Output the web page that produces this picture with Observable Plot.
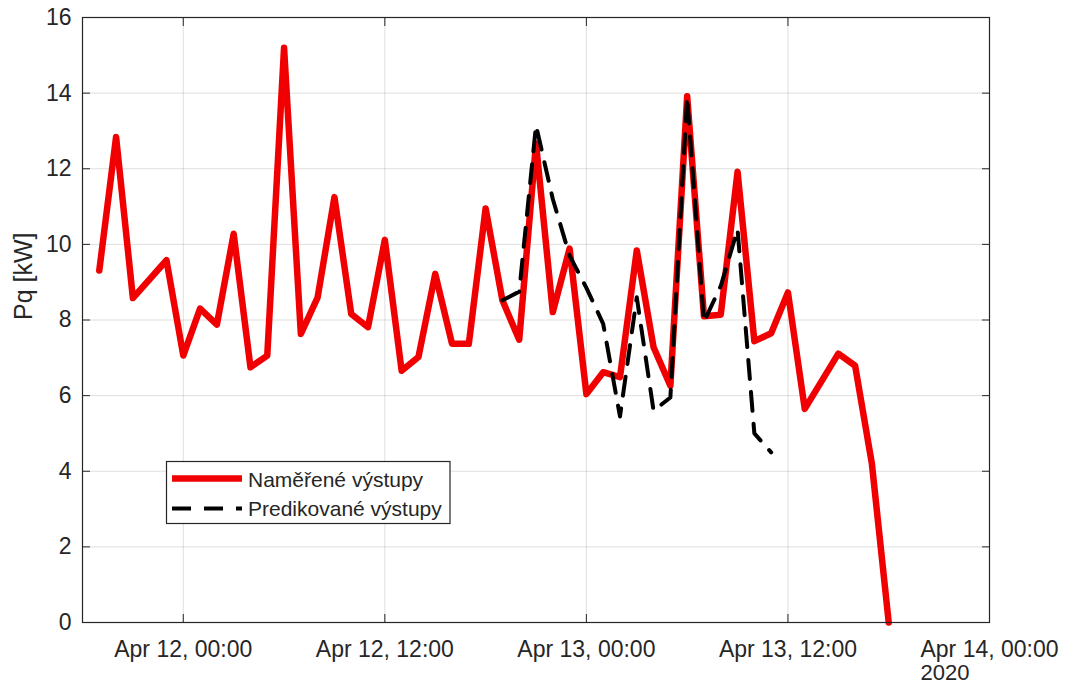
<!DOCTYPE html>
<html>
<head>
<meta charset="utf-8">
<script src="https://cdn.jsdelivr.net/npm/d3@7"></script>
<script src="https://cdn.jsdelivr.net/npm/@observablehq/plot@0.6"></script>
<style>
  html, body { margin: 0; padding: 0; background: #fff; }
  #chart { width: 1067px; height: 688px; }
</style>
</head>
<body>
<div id="chart"></div>
<script>
// Measured output power (hourly samples, kW)
const measuredTimes = [
  "2020-04-11T19:00", "2020-04-11T20:00", "2020-04-11T21:00", "2020-04-11T23:00",
  "2020-04-12T00:00", "2020-04-12T01:00", "2020-04-12T02:00", "2020-04-12T03:00",
  "2020-04-12T04:00", "2020-04-12T05:00", "2020-04-12T06:00", "2020-04-12T07:00",
  "2020-04-12T08:00", "2020-04-12T09:00", "2020-04-12T10:00", "2020-04-12T11:00",
  "2020-04-12T12:00", "2020-04-12T13:00", "2020-04-12T14:00", "2020-04-12T15:00",
  "2020-04-12T16:00", "2020-04-12T17:00", "2020-04-12T18:00", "2020-04-12T19:00",
  "2020-04-12T20:00", "2020-04-12T21:00", "2020-04-12T22:00", "2020-04-12T23:00",
  "2020-04-13T00:00", "2020-04-13T01:00", "2020-04-13T02:00", "2020-04-13T03:00",
  "2020-04-13T04:00", "2020-04-13T05:00", "2020-04-13T06:00", "2020-04-13T07:00",
  "2020-04-13T08:00", "2020-04-13T09:00", "2020-04-13T10:00", "2020-04-13T11:00",
  "2020-04-13T12:00", "2020-04-13T13:00", "2020-04-13T15:00", "2020-04-13T16:00",
  "2020-04-13T17:00", "2020-04-13T18:00"
];
const measuredValues = [
  9.31, 12.84, 8.58, 9.58,
  7.06, 8.30, 7.88, 10.28,
  6.75, 7.06, 15.20, 7.63,
  8.60, 11.25, 8.16, 7.81,
  10.12, 6.66, 7.02, 9.22,
  7.37, 7.37, 10.95, 8.52,
  7.48, 12.67, 8.21, 9.89,
  6.04, 6.62, 6.49, 9.84,
  7.28, 6.26, 13.92, 8.10,
  8.14, 11.92, 7.44, 7.65,
  8.73, 5.65, 7.11, 6.79,
  4.19, 0.00
];

// Predicted output power (kW)
const predictedTimes = [
  "2020-04-12T19:00", "2020-04-12T20:00", "2020-04-12T21:00", "2020-04-12T22:00",
  "2020-04-12T23:00", "2020-04-13T00:00", "2020-04-13T01:00", "2020-04-13T02:00",
  "2020-04-13T03:00", "2020-04-13T04:00", "2020-04-13T05:00", "2020-04-13T06:00",
  "2020-04-13T07:00", "2020-04-13T08:00", "2020-04-13T09:00", "2020-04-13T10:00",
  "2020-04-13T11:00"
];
const predictedValues = [
  8.52, 8.75, 13.15, 11.20,
  9.70, 8.85, 7.90, 5.45,
  8.60, 5.60, 5.95, 13.90,
  7.95, 8.90, 10.40, 5.00,
  4.50
];

// Axis ticks and labels
const xTickTimes = ["2020-04-12T00:00", "2020-04-12T12:00", "2020-04-13T00:00", "2020-04-13T12:00", "2020-04-14T00:00"];
const yTickValues = [0, 2, 4, 6, 8, 10, 12, 14, 16];
const xDomainTimes = ["2020-04-11T18:00", "2020-04-14T00:00"];
const yearLabel = "2020";
const yLabel = "Pq [kW]";
const seriesNames = ["Naměřené výstupy", "Predikované výstupy"];

const parseTime = s => new Date(s + ":00Z");
const measured = measuredTimes.map((t, i) => ({time: parseTime(t), value: measuredValues[i]}));
const predicted = predictedTimes.map((t, i) => ({time: parseTime(t), value: predictedValues[i]}));
const xTicks = xTickTimes.map(parseTime);
const xDomain = xDomainTimes.map(parseTime);
const tickFormat = d3.utcFormat("%b %d, %H:%M");

const ink = "#262626";
const red = "#f00000";
const font = "'Liberation Sans', Arial, Helvetica, sans-serif";
const dash = "19,13";

const chart = Plot.plot({
  width: 1067,
  height: 688,
  marginLeft: 82,
  marginRight: 78,
  marginTop: 17,
  marginBottom: 66,
  style: {fontFamily: font, background: "#fff", color: ink},
  x: {type: "utc", domain: xDomain},
  y: {domain: [0, 16]},
  marks: [
    Plot.gridX(xTicks, {stroke: ink, strokeOpacity: 0.15}),
    Plot.gridY(yTickValues, {stroke: ink, strokeOpacity: 0.15}),
    Plot.line(measured, {x: "time", y: "value", stroke: red, strokeWidth: 6.5}),
    Plot.line(predicted, {x: "time", y: "value", stroke: "#000", strokeWidth: 4, strokeDasharray: dash}),
    // tick labels
    Plot.axisX(xTicks, {anchor: "bottom", tickSize: 0, tickPadding: 18, tickFormat, fontSize: 23, label: null}),
    Plot.axisY(yTickValues, {anchor: "left", tickSize: 0, tickPadding: 11, fontSize: 23, label: null}),
    // inward tick marks on all four sides
    Plot.axisX(xTicks, {anchor: "bottom", tickSize: -8, tickFormat: () => "", label: null}),
    Plot.axisX(xTicks, {anchor: "top", tickSize: -8, tickFormat: () => "", label: null}),
    Plot.axisY(yTickValues, {anchor: "left", tickSize: -8, tickFormat: () => "", label: null}),
    Plot.axisY(yTickValues, {anchor: "right", tickSize: -8, tickFormat: () => "", label: null}),
    Plot.frame({stroke: ink, strokeWidth: 1.2}),
    Plot.text([yLabel], {frameAnchor: "left", rotate: -90, dx: -59, fontSize: 25, fill: ink}),
    Plot.text([{time: xDomain[1], label: yearLabel}], {
      x: "time", text: "label", frameAnchor: "bottom", dy: 57, dx: -69,
      textAnchor: "start", fontSize: 22, fill: ink
    })
  ]
});

// Legend box inside the plot area
const svg = d3.select(chart);
const lg = svg.append("g")
  .attr("font-family", font).attr("font-size", 21)
  .attr("fill", ink).attr("text-anchor", "start");
lg.append("rect")
  .attr("x", 166.5).attr("y", 461.5).attr("width", 283.5).attr("height", 62)
  .attr("fill", "#fff").attr("stroke", ink).attr("stroke-width", 1.2);
lg.append("line")
  .attr("x1", 172).attr("x2", 242).attr("y1", 478.5).attr("y2", 478.5)
  .attr("stroke", red).attr("stroke-width", 6.5);
lg.append("line")
  .attr("x1", 172).attr("x2", 242).attr("y1", 508.5).attr("y2", 508.5)
  .attr("stroke", "#000").attr("stroke-width", 4).attr("stroke-dasharray", dash);
lg.append("text").attr("x", 248).attr("y", 486.5).text(seriesNames[0]);
lg.append("text").attr("x", 248).attr("y", 515.5).text(seriesNames[1]);

document.getElementById("chart").appendChild(chart);
</script>
</body>
</html>
